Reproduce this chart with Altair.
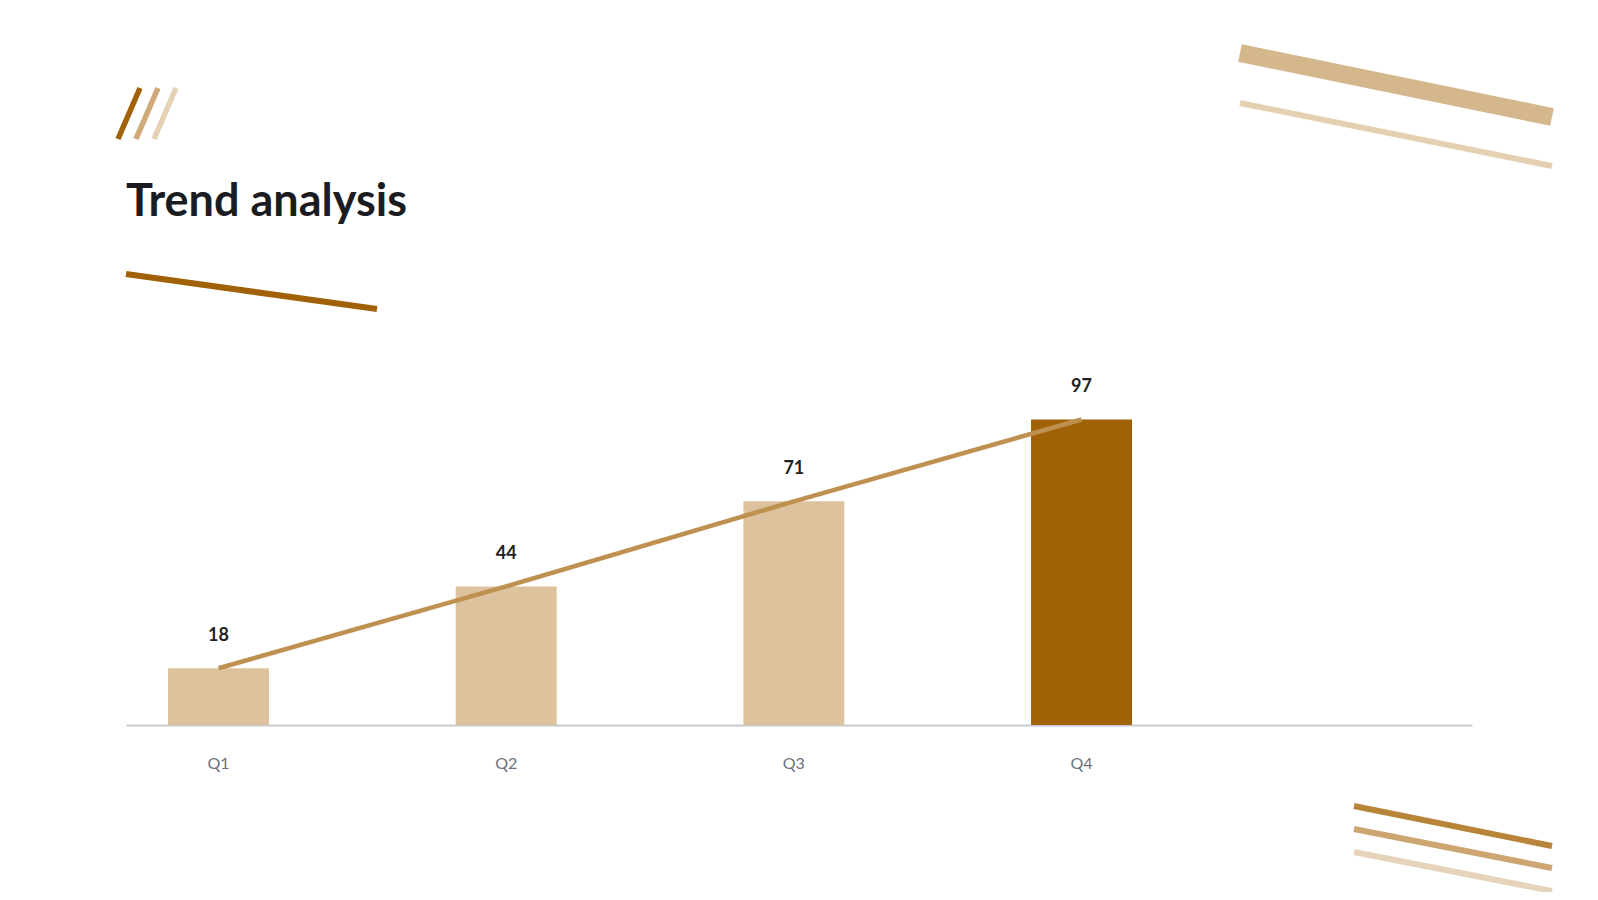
import altair as alt
import pandas as pd

# values
quarters = ["Q1", "Q2", "Q3", "Q4"]
values = [18, 44, 71, 97]
highlight = "Q4"

df = pd.DataFrame({"quarter": quarters, "value": values})

DARK = "#A16207"
LIGHT = "#DCC39E"
TREND = "#BF9150"

x = alt.X(
    "quarter:N", sort=quarters, title=None,
    scale=alt.Scale(paddingInner=0.649, paddingOuter=0.664, align=0.11),
    axis=alt.Axis(labelAngle=0, labelFont="Lato", labelFontSize=16, labelColor="#6B7280",
                  labelPadding=30, ticks=False, tickSize=0,
                  domainColor="#C9C9D1", domainWidth=2),
)
y = alt.Y("value:Q", scale=alt.Scale(domain=[0, 100]), axis=None)

base = alt.Chart(df).encode(x=x, y=y)

bars = base.mark_bar().encode(
    color=alt.condition(alt.datum.quarter == highlight, alt.value(DARK), alt.value(LIGHT))
)
trend = base.mark_line(color=TREND, strokeWidth=4.6, strokeCap="butt")
labels = base.mark_text(
    font="Lato", fontSize=18, fontWeight="bold", color="#1F1F24",
    dy=-27, baseline="alphabetic",
).encode(text="value:Q")

# decoration strokes (pixel positions relative to the plot area)
one = pd.DataFrame({"k": [0]})


def stroke(x1, y1, x2, y2, color, width):
    return alt.Chart(one).mark_rule(color=color, strokeWidth=width, strokeCap="butt").encode(
        x=alt.value(x1), y=alt.value(y1), x2=alt.value(x2), y2=alt.value(y2)
    )


decor = [
    # slashes top left
    stroke(-8, -271, 14, -322, DARK, 5.5),
    stroke(10, -271, 32, -322, "#CFA978", 5.5),
    stroke(28, -271, 50, -322, "#E5D1B3", 5.5),
    # line under the title
    stroke(0, -136, 251, -101, DARK, 6),
    # top right
    stroke(1114, -357, 1426, -293, "#D4B78C", 18),
    stroke(1114, -307, 1426, -244, "#E5D0B1", 6),
    # bottom right
    stroke(1228, 396, 1426, 436, "#B8843A", 6),
    stroke(1228, 419, 1426, 458, "#CCA570", 6),
    stroke(1228, 442, 1426, 481, "#E6D4BA", 6),
]

title = alt.Chart(one).mark_text(
    text="Trend analysis", font="Lato", fontSize=45, fontWeight="bold",
    color="#1B1C21", align="left", baseline="alphabetic",
).encode(x=alt.value(0), y=alt.value(-194))

chart = alt.layer(bars, trend, labels, *decor, title).properties(
    width=1346,
    height=315,
    padding={"left": 118, "top": 402, "right": 118, "bottom": 167},
    autosize=alt.AutoSizeParams(type="none"),
    background="white",
).configure_view(stroke=None)

chart.save("out.html", embed_options={"renderer": "svg", "actions": False})
